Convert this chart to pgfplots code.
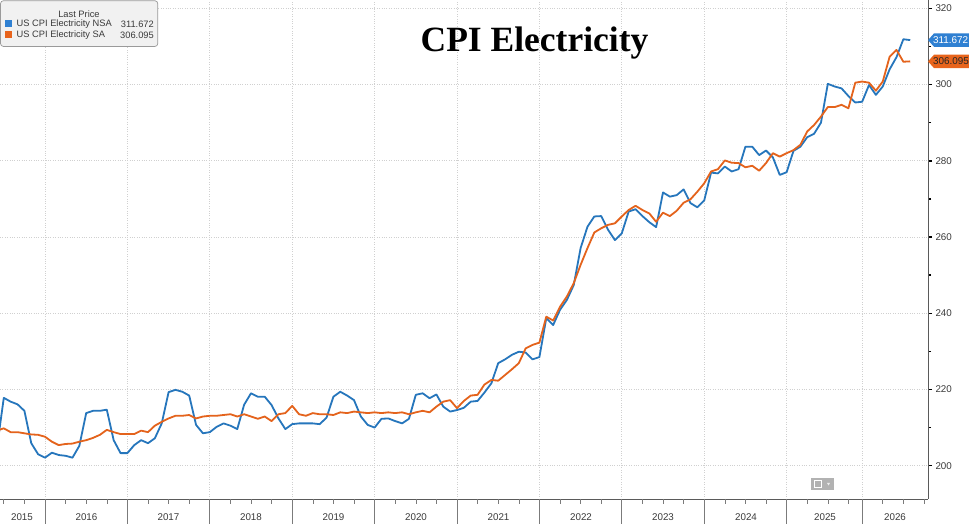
\documentclass[border=0pt]{standalone}
\usepackage{pgfplots}
\usepackage{pgfplotstable}
\pgfplotsset{compat=1.18}
\usepackage{fontspec}
\setmainfont{Liberation Sans}
\newfontfamily\titlefont{Liberation Serif}
\definecolor{nsa}{HTML}{2676BC}
\definecolor{sa}{HTML}{E4631C}
\definecolor{nsatag}{HTML}{2F80D2}
\definecolor{satag}{HTML}{E8641C}
\definecolor{gridc}{HTML}{D0D0D0}
\definecolor{axc}{HTML}{5A5A5A}
\definecolor{txt}{HTML}{3A3A3A}
\definecolor{legbg}{HTML}{F1F1F1}
\definecolor{legbd}{HTML}{9A9A9A}

\pgfplotstableread{
m v
-7 204.7
-6 217.8
-5 216.8
-4 216.1
-3 214.4
-2 205.9
-1 203.0
0 202.1
1 203.4
2 202.8
3 202.6
4 202.1
5 205.2
6 213.8
7 214.4
8 214.4
9 214.7
10 206.7
11 203.3
12 203.3
13 205.4
14 206.7
15 205.9
16 207.2
17 211.1
18 219.3
19 219.9
20 219.4
21 218.4
22 210.7
23 208.5
24 208.8
25 210.2
26 211.1
27 210.5
28 209.6
29 216.0
30 219.0
31 218.1
32 218.1
33 215.9
34 212.4
35 209.6
36 210.9
37 211.1
38 211.1
39 211.1
40 210.9
41 212.6
42 218.1
43 219.4
44 218.4
45 217.2
46 212.9
47 210.7
48 210.0
49 212.3
50 212.4
51 211.7
52 211.1
53 212.3
54 218.6
55 219.0
56 217.7
57 218.7
58 215.5
59 214.2
60 214.6
61 215.2
62 216.8
63 217.0
64 219.2
65 221.6
66 226.9
67 227.9
68 229.1
69 229.9
70 229.7
71 227.9
72 228.5
73 238.7
74 236.9
75 240.9
76 243.5
77 247.4
78 257.1
79 262.7
80 265.4
81 265.5
82 261.9
83 259.2
84 261.0
85 266.7
86 267.3
87 265.5
88 263.9
89 262.6
90 271.7
91 270.6
92 271.0
93 272.5
94 268.9
95 267.8
96 269.6
97 276.9
98 276.7
99 278.5
100 277.2
101 277.8
102 283.7
103 283.7
104 281.5
105 282.7
106 280.9
107 276.3
108 277.0
109 282.6
110 283.7
111 286.2
112 287.1
113 290.0
114 300.2
115 299.5
116 299.0
117 297.0
118 295.3
119 295.5
120 299.9
121 297.3
122 299.5
123 304.0
124 307.2
125 311.9
126 311.672
}\nsatable

\pgfplotstableread{
m v
-7 209.2
-6 209.8
-5 208.8
-4 208.8
-3 208.5
-2 208.2
-1 208.1
0 207.6
1 206.3
2 205.4
3 205.7
4 205.8
5 206.3
6 206.7
7 207.3
8 208.1
9 209.4
10 208.8
11 208.3
12 208.3
13 208.3
14 209.2
15 208.8
16 210.5
17 211.5
18 212.4
19 213.1
20 213.1
21 213.3
22 212.4
23 212.9
24 213.1
25 213.1
26 213.3
27 213.5
28 212.9
29 213.5
30 212.9
31 212.3
32 212.9
33 211.7
34 213.5
35 213.8
36 215.7
37 213.5
38 213.1
39 213.8
40 213.5
41 213.5
42 213.3
43 214.0
44 213.8
45 214.2
46 214.0
47 213.8
48 214.0
49 213.8
50 214.0
51 213.8
52 214.0
53 213.5
54 214.0
55 214.4
56 214.0
57 215.5
58 216.8
59 217.2
60 215.1
61 217.0
62 218.4
63 218.6
64 221.3
65 222.5
66 222.3
67 223.8
68 225.3
69 226.9
70 230.8
71 231.7
72 232.3
73 239.1
74 238.1
75 241.7
76 244.4
77 247.9
78 252.7
79 257.1
80 261.2
81 262.3
82 263.2
83 263.6
84 265.4
85 267.1
86 268.2
87 267.1
88 266.2
89 264.0
90 266.4
91 265.5
92 266.9
93 269.0
94 269.9
95 271.9
96 274.1
97 277.2
98 277.8
99 280.1
100 279.5
101 279.4
102 278.3
103 278.7
104 277.4
105 279.4
106 282.0
107 281.1
108 282.0
109 282.8
110 284.2
111 287.7
112 289.4
113 291.6
114 294.1
115 294.1
116 294.7
117 293.8
118 300.5
119 300.8
120 300.5
121 298.4
122 300.8
123 307.3
124 309.1
125 306.0
126 306.095
}\satable

\begin{document}
\begin{tikzpicture}
\useasboundingbox (0,0) rectangle (969pt,524pt);
\fill[white] (0,0) rectangle (969pt,524pt);
\begin{axis}[
  at={(0pt,25pt)}, anchor=south west,
  width=928pt, height=499pt, scale only axis,
  xmin=-6.553, xmax=128.59, ymin=191.26, ymax=322.2,
  axis x line*=bottom, axis y line*=right,
  axis line style={axc, line width=0.8pt},
  xtick={0,12,24,36,48,60,72,84,96,108,119}, xticklabels={},
  xtick style={draw=none},
  ytick={200,220,...,320}, minor ytick={210,230,...,310},
  ytick style={black, line width=1.4pt},
  minor tick style={axc, line width=0.5pt},
  major tick length=4pt, minor tick length=3pt, tick align=outside,
  grid=major, major grid style={gridc, dotted, line width=0.7pt},
  yticklabel style={font=\fontsize{9.8}{10}\selectfont, text=txt, xshift=0pt},
  /pgf/number format/assume math mode=true,
  clip=true,
]
\addplot[nsa, line width=1.8pt, line join=round] table[x=m,y=v]{\nsatable};
\addplot[sa, line width=1.8pt, line join=round] table[x=m,y=v]{\satable};
\end{axis}

\begin{scope}[x=1pt,y=1pt]
  % year dividers and quarter ticks
  \foreach \m in {0,12,24,36,48,60,72,84,96,108,119}
    \draw[axc!80, line width=0.8pt] ({45+6.867*\m},25) -- ({45+6.867*\m},0);
  \foreach \m in {-6,-3,3,6,9,15,18,21,27,30,33,39,42,45,51,54,57,63,66,69,75,78,81,87,90,93,99,102,105,111,114,117,122,125,128}
    \draw[axc!80, line width=0.6pt] ({45+6.867*\m},25) -- ({45+6.867*\m},20);
  \foreach \x/\y in {22/2015,86.5/2016,168.5/2017,251/2018,333.5/2019,416/2020,498.5/2021,581/2022,663/2023,746/2024,825/2025,895/2026}
    \node[font=\fontsize{9.8}{10}\selectfont, text=txt] at (\x,6.5) {\y};

  % value tags
  \fill[nsatag] (928,483.9) -- (934,490.6) -- (972,490.6) -- (972,477.2) -- (934,477.2) -- cycle;
  \node[font=\fontsize{9.9}{11}\selectfont, text=white, anchor=west, inner sep=0pt] at (932.8,483.9) {311.672};
  \fill[satag] (928,462.6) -- (934,469.3) -- (972,469.3) -- (972,455.9) -- (934,455.9) -- cycle;
  \node[font=\fontsize{9.9}{11}\selectfont, text=black!85, anchor=west, inner sep=0pt] at (932.8,462.6) {306.095};

  % legend
  \draw[fill=legbg, draw=legbd, line width=0.7pt, rounded corners=3pt] (0.5,523.3) rectangle (157.8,477.5);
  \node[font=\fontsize{9.3}{10}\selectfont, text=txt] at (79,510) {Last Price};
  \fill[nsatag] (4.5,496.5) rectangle (11.5,503.5);
  \node[font=\fontsize{9.3}{10}\selectfont, text=txt, anchor=west, inner sep=0pt] at (16.5,500) {US CPI Electricity NSA};
  \node[font=\fontsize{9.3}{10}\selectfont, text=txt, anchor=east, inner sep=0pt] at (154,500) {311.672};
  \fill[satag] (4.5,485.5) rectangle (11.5,492.5);
  \node[font=\fontsize{9.3}{10}\selectfont, text=txt, anchor=west, inner sep=0pt] at (16.5,489) {US CPI Electricity SA};
  \node[font=\fontsize{9.3}{10}\selectfont, text=txt, anchor=east, inner sep=0pt] at (154,489) {306.095};

  % title
  \node[font=\titlefont\bfseries\fontsize{35.5}{36}\selectfont, text=black, anchor=base, inner sep=0pt] at (534.5,472.3) {CPI Electricity};

  % small icon
  \fill[gray!60] (811,34) rectangle (834,46);
  \draw[white, line width=0.6pt] (814.5,36.5) rectangle (821.5,43.5);
  \fill[white!85!gray] (827,41) -- (830,41) -- (828.5,38.5) -- cycle;
\end{scope}
\end{tikzpicture}
\end{document}
